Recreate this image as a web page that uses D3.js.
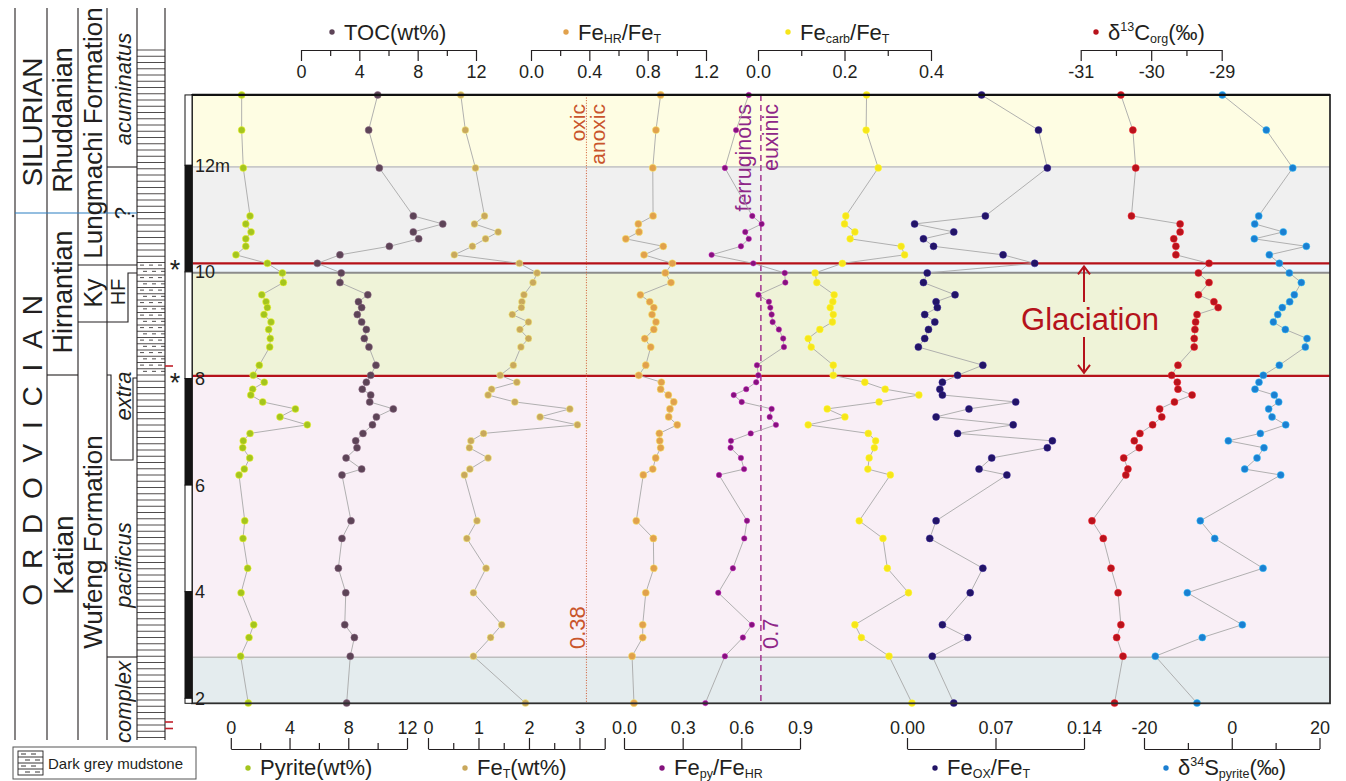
<!DOCTYPE html>
<html>
<head>
<meta charset="utf-8">
<script src="https://cdn.jsdelivr.net/npm/d3@7/dist/d3.min.js"></script>
<style>
  body { margin: 0; background: #fff; }
  svg { font-family: "Liberation Sans", Arial, Helvetica, sans-serif; }
</style>
</head>
<body>
<svg id="chart" width="1346" height="781"></svg>
<script>
// sample depths (m), shared by all series
var depth = [13.32, 12.66, 11.95, 11.05, 10.90, 10.75, 10.62, 10.48, 10.32, 10.16, 9.98, 9.80, 9.57, 9.44, 9.33, 9.20, 9.06, 8.92, 8.75, 8.59, 8.25, 8.06, 7.93, 7.80, 7.69, 7.56, 7.43, 7.28, 7.13, 6.97, 6.83, 6.70, 6.51, 6.30, 6.19, 5.33, 5.00, 4.44, 3.98, 3.38, 3.14, 2.79, 1.91];

var pyrite = [0.74, 0.74, 0.85, 1.31, 1.02, 1.38, 1.02, 1.02, 0.35, 2.49, 3.51, 3.58, 2.11, 2.40, 2.49, 2.26, 2.74, 2.58, 2.69, 2.65, 1.94, 1.53, 2.28, 1.49, 1.36, 2.17, 4.40, 3.35, 5.21, 1.31, 0.85, 0.81, 1.29, 0.92, 0.56, 0.95, 0.83, 1.15, 0.70, 1.56, 1.24, 0.67, 1.19];
var toc = [5.26, 4.64, 5.37, 7.70, 9.72, 7.70, 8.07, 6.06, 2.67, 1.12, 2.76, 2.67, 4.58, 3.94, 4.16, 3.86, 4.16, 4.48, 4.34, 4.66, 5.14, 4.78, 4.48, 4.20, 4.78, 4.71, 6.33, 5.17, 4.90, 4.25, 3.75, 3.84, 3.09, 4.16, 2.81, 3.43, 2.81, 2.56, 3.07, 3.00, 3.66, 3.38, 3.13];
var feT = [0.65, 0.74, 0.94, 1.12, 0.92, 1.39, 1.14, 0.88, 0.52, 1.81, 2.16, 2.08, 1.90, 1.86, 1.85, 1.67, 1.99, 1.82, 1.99, 1.84, 1.69, 1.43, 1.76, 1.26, 1.19, 1.72, 2.81, 2.22, 2.96, 1.10, 0.85, 0.82, 1.19, 0.83, 0.72, 0.97, 0.77, 1.15, 0.90, 1.46, 1.24, 0.90, 1.93];
var feHR = [0.889, 0.857, 0.835, 0.837, 0.736, 0.741, 0.650, 0.907, 0.775, 0.969, 0.921, 0.960, 0.750, 0.814, 0.842, 0.830, 0.857, 0.842, 0.780, 0.821, 0.787, 0.739, 0.894, 0.889, 0.942, 0.979, 0.953, 0.944, 1.003, 0.880, 0.883, 0.889, 0.855, 0.835, 0.770, 0.722, 0.839, 0.842, 0.787, 0.766, 0.766, 0.693, 0.706];
var fePy = [0.638, 0.573, 0.516, 0.656, 0.704, 0.620, 0.638, 0.598, 0.448, 0.661, 0.822, 0.825, 0.687, 0.741, 0.748, 0.755, 0.760, 0.792, 0.814, 0.818, 0.680, 0.687, 0.676, 0.625, 0.561, 0.602, 0.755, 0.745, 0.777, 0.648, 0.547, 0.545, 0.598, 0.614, 0.486, 0.629, 0.615, 0.557, 0.482, 0.654, 0.608, 0.516, 0.416];
var feCarb = [0.251, 0.250, 0.278, 0.203, 0.200, 0.224, 0.213, 0.331, 0.339, 0.195, 0.132, 0.136, 0.176, 0.173, 0.167, 0.174, 0.172, 0.143, 0.116, 0.123, 0.174, 0.174, 0.247, 0.294, 0.372, 0.280, 0.160, 0.201, 0.116, 0.255, 0.272, 0.269, 0.257, 0.254, 0.306, 0.234, 0.289, 0.299, 0.348, 0.224, 0.239, 0.303, 0.356];
var feOx = [0.059, 0.104, 0.111, 0.062, 0.006, 0.037, 0.013, 0.021, 0.076, 0.101, 0.016, 0.013, 0.038, 0.023, 0.024, 0.014, 0.022, 0.017, 0.014, 0.009, 0.060, 0.040, 0.028, 0.026, 0.028, 0.086, 0.049, 0.023, 0.084, 0.040, 0.115, 0.111, 0.067, 0.057, 0.079, 0.023, 0.018, 0.060, 0.050, 0.028, 0.048, 0.020, 0.037];
var d13C = [-30.43, -30.26, -30.22, -30.28, -29.59, -29.59, -29.68, -29.65, -29.65, -29.18, -29.33, -29.18, -29.33, -29.11, -29.05, -29.35, -29.37, -29.38, -29.39, -29.39, -29.62, -29.71, -29.63, -29.62, -29.42, -29.67, -29.88, -29.85, -29.98, -30.16, -30.24, -30.17, -30.39, -30.33, -30.36, -30.84, -30.68, -30.57, -30.47, -30.43, -30.49, -30.40, -30.52];
var d34S = [-2.15, 7.88, 13.90, 6.15, 5.23, 11.75, 5.14, 17.00, 8.56, 10.84, 13.12, 15.86, 14.26, 13.21, 11.52, 10.48, 9.47, 12.21, 17.16, 16.77, 10.84, 7.19, 6.21, 5.30, 9.70, 10.70, 8.42, 9.18, 12.30, 6.51, -0.78, 7.35, 5.76, 2.95, 11.16, -7.17, -3.88, 7.13, -10.13, 2.41, -6.71, -17.42, -7.92];

// interval boundaries (m) of the shaded zones, top to bottom
var zoneEdges = [13.32, 11.97, 10.16, 9.985, 8.05, 2.77, 1.906];
var zoneFills = ["#fefde3", "#f0f0f0", "#eef5fb", "#eff3d8", "#f9eff6", "#e4ecee"];
var depthTicks = [12, 10, 8, 6, 4, 2];
var depthBarEdges = [13.32, 12, 10, 8, 6, 4, 2, 1.906];

var svg = d3.select("#chart");
var ink = "#231f20";

var y = d3.scaleLinear().domain([2, 12]).range([698.3, 165.3]);
var frameL = 192, frameR = 1330, frameT = y(13.32), frameB = y(1.906);

// ---------- zone backgrounds ----------
for (var i = 0; i < zoneFills.length; i++) {
  svg.append("rect")
    .attr("x", frameL).attr("width", frameR - frameL)
    .attr("y", y(zoneEdges[i])).attr("height", y(zoneEdges[i + 1]) - y(zoneEdges[i]))
    .attr("fill", zoneFills[i]);
}
function hline(d, color, w) {
  svg.append("line").attr("x1", frameL).attr("x2", frameR)
    .attr("y1", y(d)).attr("y2", y(d))
    .attr("stroke", color).attr("stroke-width", w);
}
hline(zoneEdges[1], "#c9c9c9", 1.6);
hline(zoneEdges[3], "#8c8c8c", 2);
hline(zoneEdges[5], "#bdbdbd", 1.6);
hline(zoneEdges[2], "#b5121b", 2.2);
hline(zoneEdges[4], "#b5121b", 2.2);

// ---------- scales ----------
var sc = {
  pyrite: d3.scaleLinear().domain([0, 12]).range([230.8, 407]),
  toc:    d3.scaleLinear().domain([0, 12]).range([301, 476]),
  feT:    d3.scaleLinear().domain([0, 3.5]).range([428, 604.7]),
  feHR:   d3.scaleLinear().domain([0, 1.2]).range([531, 706]),
  fePy:   d3.scaleLinear().domain([0, 0.9]).range([624, 800]),
  feCarb: d3.scaleLinear().domain([0, 0.4]).range([758, 931]),
  feOx:   d3.scaleLinear().domain([0, 0.14]).range([907, 1084]),
  d13C:   d3.scaleLinear().domain([-31, -29]).range([1080.7, 1221.7]),
  d34S:   d3.scaleLinear().domain([-20, 20]).range([1144, 1319.5])
};

// ---------- threshold lines ----------
var xOx = sc.feHR(0.38), xEu = sc.fePy(0.7);
svg.append("line").attr("x1", xOx).attr("x2", xOx).attr("y1", frameT).attr("y2", frameB)
  .attr("stroke", "#d0562c").attr("stroke-width", 1).attr("stroke-dasharray", "1,1.6");
svg.append("line").attr("x1", xEu).attr("x2", xEu).attr("y1", frameT).attr("y2", frameB)
  .attr("stroke", "#a3368f").attr("stroke-width", 1.5).attr("stroke-dasharray", "6,4");

function vtext(x, yy, txt, color, size, anchor) {
  svg.append("text").attr("transform", "translate(" + x + "," + yy + ") rotate(-90)")
    .attr("text-anchor", anchor).attr("fill", color).attr("font-size", size).text(txt);
}
vtext(585, 104, "oxic", "#c9552c", 21, "end");
vtext(605, 104, "anoxic", "#c9552c", 21, "end");
vtext(585, 649, "0.38", "#c9552c", 22, "start");
vtext(751, 104, "ferruginous", "#8e2688", 21.5, "end");
vtext(778, 104, "euxinic", "#8e2688", 21.5, "end");
vtext(778, 649, "0.7", "#8e2688", 22, "start");

// ---------- series ----------
var series = [
  { v: pyrite, s: sc.pyrite, c: "#a4c51e", r: 3.5 },
  { v: toc,    s: sc.toc,    c: "#5d4457", r: 3.5 },
  { v: feT,    s: sc.feT,    c: "#c9a85c", r: 3.5 },
  { v: feHR,   s: sc.feHR,   c: "#e1a14c", r: 3.6 },
  { v: fePy,   s: sc.fePy,   c: "#84127d", r: 2.7 },
  { v: feCarb, s: sc.feCarb, c: "#f6e51a", r: 3.4 },
  { v: feOx,   s: sc.feOx,   c: "#221466", r: 3.5 },
  { v: d13C,   s: sc.d13C,   c: "#b8131c", r: 3.5 },
  { v: d34S,   s: sc.d34S,   c: "#1b7fd1", r: 3.5 }
];
series.forEach(function(S) {
  var pts = S.v.map(function(v, i) { return [S.s(v), y(depth[i])]; });
  svg.append("path").datum(pts)
    .attr("d", d3.line())
    .attr("fill", "none").attr("stroke", "#a8a8a8").attr("stroke-width", 0.9);
  svg.append("g").selectAll("circle").data(pts).enter().append("circle")
    .attr("cx", function(d) { return d[0]; })
    .attr("cy", function(d) { return d[1]; })
    .attr("r", S.r)
    .attr("fill", S.c)
    .attr("stroke", d3.color(S.c).brighter(1.2).formatHex())
    .attr("stroke-opacity", 0.7)
    .attr("stroke-width", 0.7);
});

// ---------- frame ----------
svg.append("rect").attr("x", frameL).attr("y", frameT)
  .attr("width", frameR - frameL).attr("height", frameB - frameT)
  .attr("fill", "none").attr("stroke", "#2e2e2e").attr("stroke-width", 1.8);
svg.append("line").attr("x1", frameL).attr("x2", frameR).attr("y1", frameT).attr("y2", frameT)
  .attr("stroke", "#111").attr("stroke-width", 2.2);

// ---------- glaciation ----------
var glacRed = "#b5121b", gx = 1084;
svg.append("text").attr("x", 1090).attr("y", 330).attr("text-anchor", "middle")
  .attr("font-size", 31).attr("fill", glacRed).text("Glaciation");
svg.append("path")
  .attr("d", "M" + gx + "," + (y(10.16) + 3) + "V302M" + gx + ",337V" + (y(8.05) - 3) +
    "M" + (gx - 6) + "," + (y(10.16) + 11) + "L" + gx + "," + (y(10.16) + 3) + "L" + (gx + 6) + "," + (y(10.16) + 11) +
    "M" + (gx - 6) + "," + (y(8.05) - 11) + "L" + gx + "," + (y(8.05) - 3) + "L" + (gx + 6) + "," + (y(8.05) - 11))
  .attr("fill", "none").attr("stroke", glacRed).attr("stroke-width", 2);

// ---------- depth scale ----------
for (var k = 0; k < depthBarEdges.length - 1; k++) {
  svg.append("rect").attr("x", 185).attr("width", 7)
    .attr("y", y(depthBarEdges[k])).attr("height", y(depthBarEdges[k + 1]) - y(depthBarEdges[k]))
    .attr("fill", k % 2 === 0 ? "#fff" : "#141414")
    .attr("stroke", "#141414").attr("stroke-width", 1);
}
svg.append("g").selectAll("text").data(depthTicks).enter().append("text")
  .attr("x", 195).attr("y", function(d) { return y(d) + 6.5; })
  .attr("font-size", 18).attr("fill", ink)
  .text(function(d) { return d === 12 ? "12m" : d; });

// asterisks
[10.16, 8.05].forEach(function(d) {
  svg.append("text").attr("x", 175).attr("y", y(d) + 16).attr("text-anchor", "middle")
    .attr("font-size", 27).attr("fill", ink).text("*");
});

// ---------- axes ----------
function axis(scale, yPos, top, major, minor, fmt) {
  var g = svg.append("g").attr("transform", "translate(0," + yPos + ")");
  var a = (top ? d3.axisBottom(scale) : d3.axisTop(scale))
    .tickValues(major).tickSize(11).tickSizeOuter(0).tickPadding(4).tickFormat(fmt);
  g.call(a);
  if (minor.length) {
    var m = (top ? d3.axisBottom(scale) : d3.axisTop(scale))
      .tickValues(minor).tickSize(6).tickSizeOuter(0).tickFormat("");
    g.append("g").call(m).select(".domain").remove();
  }
  g.selectAll("path, line").attr("stroke", ink).attr("stroke-width", 1.2);
  g.selectAll("text").attr("font-size", 18).attr("fill", ink)
    .attr("font-family", "Liberation Sans, Arial, sans-serif");
}
var f0 = function(d) { return String(d); };
var f1 = function(d) { return d.toFixed(1); };
var f2 = function(d) { return d.toFixed(2); };
axis(sc.toc, 50, true, [0, 4, 8, 12], [2, 6, 10], f0);
axis(sc.feHR, 50, true, [0, 0.4, 0.8, 1.2], [0.2, 0.6, 1.0], f1);
axis(sc.feCarb, 50, true, [0, 0.2, 0.4], [0.1, 0.3], f1);
axis(sc.d13C, 50, true, [-31, -30, -29], [-30.5, -29.5], f0);
axis(sc.pyrite, 749, false, [0, 4, 8, 12], [2, 6, 10], f0);
axis(sc.feT, 749, false, [0, 1, 2, 3, 3.5], [0.5, 1.5, 2.5], function(d) { return d === 3.5 ? "" : f0(d); });
axis(sc.fePy, 749, false, [0, 0.3, 0.6, 0.9], [], f1);
axis(sc.feOx, 749, false, [0, 0.07, 0.14], [], f2);
axis(sc.d34S, 749, false, [-20, 0, 20], [-10, 10], f0);

// titles with sub / superscripts
function title(xDot, yc, base, color, parts) {
  svg.append("circle").attr("cx", xDot).attr("cy", yc).attr("r", 2.7).attr("fill", color);
  var t = svg.append("text").attr("x", xDot + 12).attr("y", base)
    .attr("font-size", 22).attr("fill", ink);
  var cur = 0;
  parts.forEach(function(p) {
    var target = p[1] === "sub" ? 3 : (p[1] === "sup" ? -9 : 0);
    var ts = t.append("tspan").text(p[0]).attr("dy", target - cur);
    if (p[1]) ts.attr("font-size", 12.5);
    cur = target;
  });
}
title(332, 32, 40, "#5d4457", [["TOC(wt%)"]]);
title(566, 32, 40, "#e1a14c", [["Fe"], ["HR", "sub"], ["/Fe"], ["T", "sub"]]);
title(788, 32, 40, "#f6e51a", [["Fe"], ["carb", "sub"], ["/Fe"], ["T", "sub"]]);
title(1096, 32, 40, "#b8131c", [["δ"], ["13", "sup"], ["C"], ["org", "sub"], ["(‰)"]]);
title(248, 768, 775, "#a4c51e", [["Pyrite(wt%)"]]);
title(465, 768, 775, "#c9a85c", [["Fe"], ["T", "sub"], ["(wt%)"]]);
title(662, 768, 775, "#84127d", [["Fe"], ["py", "sub"], ["/Fe"], ["HR", "sub"]]);
title(935, 768, 775, "#221466", [["Fe"], ["OX", "sub"], ["/Fe"], ["T", "sub"]]);
title(1166, 768, 775, "#1b7fd1", [["δ"], ["34", "sup"], ["S"], ["pyrite", "sub"], ["(‰)"]]);

// ---------- stratigraphic column ----------
var col = svg.append("g").attr("stroke", ink).attr("stroke-width", 1.1).attr("fill", "none");
[15, 47, 78, 107, 137, 165].forEach(function(x) {
  col.append("line").attr("x1", x).attr("x2", x).attr("y1", 8).attr("y2", 740);
});
function seg(pts, color) {
  col.append("path").attr("d", d3.line()(pts)).attr("stroke", color || ink);
}
seg([[47, 375], [78, 375]]);
seg([[78, 265], [137, 265]]);
seg([[78, 322], [128, 322], [128, 273], [137, 273]]);
seg([[107, 167], [137, 167]]);
seg([[107, 375], [111, 375], [111, 460], [133, 460], [133, 378], [137, 378]]);
seg([[107, 657], [137, 657]]);
// lithology hatch
for (var yy = 50; yy <= 740; yy += 6.25) {
  col.append("line").attr("x1", 137).attr("x2", 165).attr("y1", yy).attr("y2", yy).attr("stroke-width", 0.8);
}
var row = 0;
for (var ym = 265.1; ym < 372; ym += 6.25, row++) {
  var off = row % 2 ? 3 : 0;
  [140, 149, 158].forEach(function(x0) {
    col.append("line").attr("x1", x0 + off).attr("x2", x0 + off + 4)
      .attr("y1", ym).attr("y2", ym).attr("stroke-width", 0.8);
  });
}
seg([[15, 213], [137, 213]], "#2b7fc1");
svg.append("g").attr("stroke", "#c0202a").attr("stroke-width", 1.6)
  .selectAll("line").data([366, 722, 728.5]).enter().append("line")
  .attr("x1", 165).attr("x2", 173).attr("y1", function(d) { return d; }).attr("y2", function(d) { return d; });

function ctext(cx, cy, txt, size, italic, spacing) {
  var t = svg.append("text").attr("transform", "translate(" + cx + "," + cy + ") rotate(-90)")
    .attr("text-anchor", "middle").attr("dominant-baseline", "central")
    .attr("font-size", size).attr("fill", ink).text(txt);
  if (italic) t.attr("font-style", "italic");
  if (spacing) t.attr("letter-spacing", spacing);
}
ctext(32, 122, "SILURIAN", 28);
ctext(32, 443, "ORDOVICIAN", 28, false, 14.8);
ctext(63, 120, "Rhuddanian", 27);
ctext(63, 292, "Hirnantian", 27);
ctext(63, 555, "Katian", 28);
ctext(93, 133, "Lungmachi Formation", 26);
ctext(93, 293, "Ky", 25);
ctext(118, 292, "HF", 20);
ctext(93, 542, "Wufeng Formation", 26);
ctext(123, 89, "acuminatus", 22, true);
ctext(123, 396, "extra", 22, true);
ctext(123, 565, "pacificus", 22, true);
ctext(123, 702, "complex", 22, true);
svg.append("text").attr("transform", "translate(122,213) rotate(-90)")
  .attr("text-anchor", "middle").attr("dominant-baseline", "central")
  .attr("font-size", 22).attr("fill", ink).text("?");
svg.append("circle").attr("cx", 133).attr("cy", 216).attr("r", 1.3).attr("fill", ink);

// ---------- legend ----------
svg.append("rect").attr("x", 13).attr("y", 747).attr("width", 183).attr("height", 32)
  .attr("fill", "none").attr("stroke", "#555").attr("stroke-width", 1);
var lg = svg.append("g").attr("stroke", ink).attr("stroke-width", 0.9).attr("fill", "none");
lg.append("rect").attr("x", 18).attr("y", 751).attr("width", 25).attr("height", 24);
[757, 763, 769].forEach(function(yy) {
  lg.append("line").attr("x1", 18).attr("x2", 43).attr("y1", yy).attr("y2", yy);
});
[[21, 754], [31, 754], [25, 760], [35, 760], [21, 766], [31, 766], [25, 772], [35, 772]].forEach(function(p) {
  lg.append("line").attr("x1", p[0]).attr("x2", p[0] + 5).attr("y1", p[1]).attr("y2", p[1]);
});
svg.append("text").attr("x", 48).attr("y", 769).attr("font-size", 15).attr("fill", ink)
  .text("Dark grey mudstone");
</script>
</body>
</html>
